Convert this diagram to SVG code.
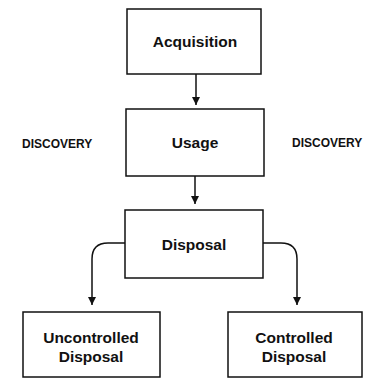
<svg xmlns="http://www.w3.org/2000/svg" width="365" height="380" viewBox="0 0 365 380">
<style>
.box{fill:#fff;stroke:#111;stroke-width:1.5}
.lbl{font-family:"Liberation Sans",Arial,sans-serif;font-weight:bold;font-size:15.5px;fill:#111;text-anchor:middle}
.side{font-family:"Liberation Sans",Arial,sans-serif;font-weight:bold;font-size:12px;fill:#111}
.con{fill:none;stroke:#111;stroke-width:1.5}
</style>
<defs>
<marker id="ah" viewBox="0 0 10 10" refX="10" refY="5" markerWidth="8" markerHeight="8" markerUnits="userSpaceOnUse" orient="auto">
<path d="M0,0 L10,5 L0,10 Z" fill="#111"/>
</marker>
</defs>
<rect width="365" height="380" fill="#fff"/>
<g id="connectors">
<path class="con" d="M196,74 V105" marker-end="url(#ah)"/>
<path class="con" d="M195,176 V204" marker-end="url(#ah)"/>
<path class="con" d="M125,243 H108 Q92,243 92,259 V305" marker-end="url(#ah)"/>
<path class="con" d="M263,243 H281 Q297,243 297,259 V305" marker-end="url(#ah)"/>
</g>
<g id="acquisition">
<rect class="box" x="127" y="9" width="134" height="65"/>
<text class="lbl" x="195" y="47">Acquisition</text>
</g>
<g id="usage">
<rect class="box" x="126" y="109" width="138" height="67"/>
<text class="lbl" x="195" y="148">Usage</text>
</g>
<g id="discovery-left">
<text class="side" x="22" y="148">DISCOVERY</text>
</g>
<g id="discovery-right">
<text class="side" x="292" y="147">DISCOVERY</text>
</g>
<g id="disposal">
<rect class="box" x="125" y="210" width="138" height="68"/>
<text class="lbl" x="194" y="250">Disposal</text>
</g>
<g id="uncontrolled">
<rect class="box" x="23" y="312" width="137" height="65"/>
<text class="lbl" x="91" y="343">Uncontrolled</text>
<text class="lbl" x="91" y="362">Disposal</text>
</g>
<g id="controlled">
<rect class="box" x="228" y="312" width="134" height="65"/>
<text class="lbl" x="294" y="343">Controlled</text>
<text class="lbl" x="294" y="362">Disposal</text>
</g>
</svg>
